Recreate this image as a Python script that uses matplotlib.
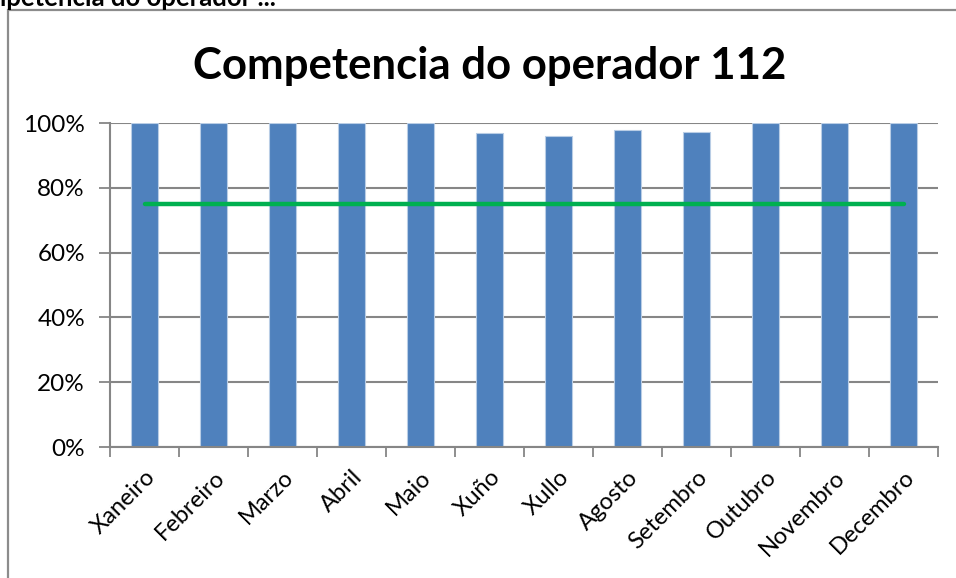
import matplotlib
matplotlib.use("Agg")
import matplotlib.pyplot as plt
from matplotlib.patches import Rectangle
from matplotlib.ticker import FuncFormatter, FixedLocator
import numpy as np

months = ["Xaneiro", "Febreiro", "Marzo", "Abril", "Maio", "Xuño", "Xullo",
          "Agosto", "Setembro", "Outubro", "Novembro", "Decembro"]
competencia = [1.00, 1.00, 1.00, 1.00, 1.00, 0.968, 0.960, 0.978, 0.972, 1.00, 1.00, 1.00]
obxectivo = [0.75] * 12
title = "Competencia do operador 112"
yticks = [0, 0.2, 0.4, 0.6, 0.8, 1.0]

plt.rcParams['font.family'] = ['Lato', 'DejaVu Sans']

W, H = 956, 578
fig = plt.figure(figsize=(W / 100, H / 100), dpi=100)

# outer chart frame (partially cut)
fig.patches.append(Rectangle((8 / W, -0.1), 1.2, 1 - 10.5 / H + 0.1, transform=fig.transFigure,
                             fill=False, edgecolor='#8c8c8c', linewidth=1.6, zorder=0))

# cut-off text at the very top
fig.text(276 / W, 1 - 6 / H, "Competencia do operador ...", ha='right', va='baseline',
         fontsize=18.5, fontweight='bold', color='black')

ax = fig.add_axes([110 / W, 1 - 447 / H, (938 - 110) / W, (447 - 123) / H])
x = np.arange(len(months))
ax.bar(x, competencia, width=0.4, color='#4F81BD', edgecolor='#B9CDE5', linewidth=0.8, zorder=2)
ax.plot(x, obxectivo, color='#00B050', linewidth=3.2, solid_capstyle='round', zorder=3)

ax.set_xlim(-0.5, len(months) - 0.5)
ax.set_ylim(0, 1.0)
ax.set_yticks(yticks)
ax.yaxis.set_major_formatter(FuncFormatter(lambda v, p: f"{int(round(v * 100))}%"))
ax.grid(axis='y', color='#868686', linewidth=1.5, zorder=1)
ax.set_axisbelow(True)

ax.xaxis.set_major_locator(FixedLocator(np.arange(-0.5, len(months), 1.0)))
ax.xaxis.set_major_formatter(FuncFormatter(lambda v, p: ""))
ax.xaxis.set_minor_locator(FixedLocator(x))
ax.set_xticklabels(months, minor=True, rotation=45, ha='right', rotation_mode='anchor', fontsize=17)
ax.tick_params(axis='x', which='minor', length=0, pad=14)
ax.tick_params(axis='x', which='major', length=7, width=1.3, color='#868686', direction='out')
ax.tick_params(axis='y', length=8, width=1.3, color='#868686', labelsize=17.5, pad=10)

for s in ['top', 'right']:
    ax.spines[s].set_visible(False)
for s in ['left', 'bottom']:
    ax.spines[s].set_color('#868686')
    ax.spines[s].set_linewidth(1.5)

fig.text(490 / W, 1 - 66 / H, title, ha='center', va='center', fontsize=31.5, fontweight='bold')

fig.savefig("out.png", dpi=100)
